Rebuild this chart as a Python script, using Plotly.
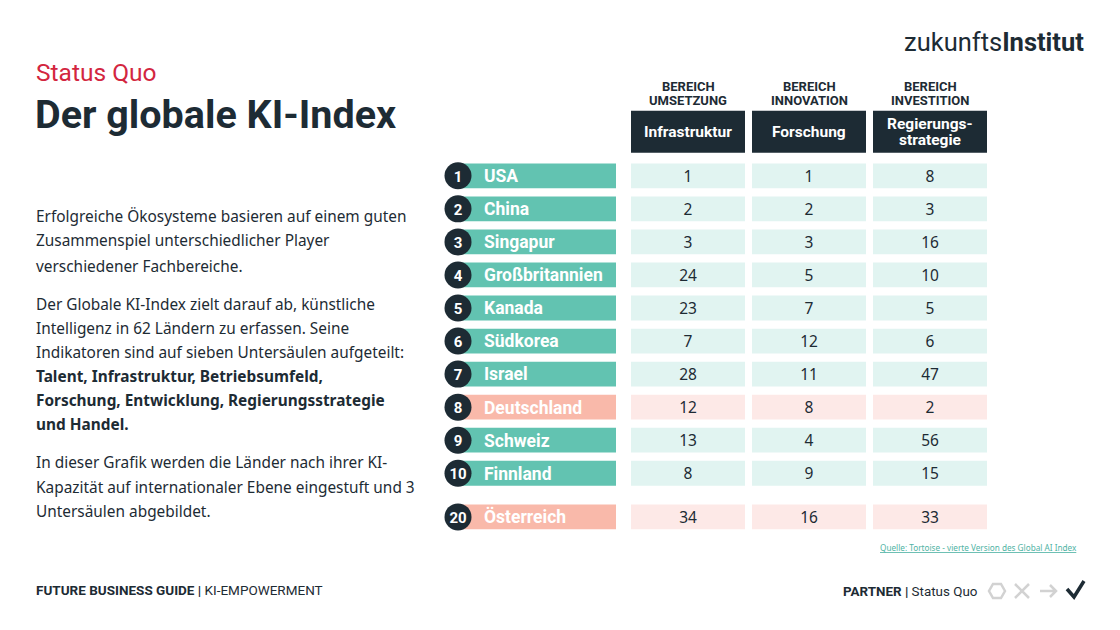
import plotly.graph_objects as go

# ---------------- data ----------------
ranks = [1, 2, 3, 4, 5, 6, 7, 8, 9, 10, 20]
countries = ["USA", "China", "Singapur", "Großbritannien", "Kanada", "Südkorea",
             "Israel", "Deutschland", "Schweiz", "Finnland", "Österreich"]
infrastruktur = [1, 2, 3, 24, 23, 7, 28, 12, 13, 8, 34]
forschung = [1, 2, 3, 5, 7, 12, 11, 8, 4, 9, 16]
regierungsstrategie = [8, 3, 16, 10, 5, 6, 47, 2, 56, 15, 33]
highlighted = ["Deutschland", "Österreich"]

column_groups = [["BEREICH", "UMSETZUNG"], ["BEREICH", "INNOVATION"], ["BEREICH", "INVESTITION"]]
column_titles = [["Infrastruktur"], ["Forschung"], ["Regierungs-", "strategie"]]

# ---------------- style / layout ----------------
PAGE_W, PAGE_H = 1120, 630
OFF = 8  # default page margin of the html body
W, H = PAGE_W - OFF, PAGE_H - OFF
DARK = "#1d2b34"
TEAL = "#62c3b1"
TEAL_LIGHT = "#e1f4f1"
PINK = "#f9b9aa"
PINK_LIGHT = "#fde9e7"
RED = "#d3263f"
GRAY = "#d2d2d2"
TITLE_FONT = "Roboto"
BODY_FONT = "Noto Sans"

ROW0_PX = 175.8
ROW_STEP = 33.05
BAR_W = 0.75
TEXT_SHIFT = 0.06  # small downward nudge of text inside rows
NAME_LEFT, NAME_WIDTH = 460, 156
COL_LEFTS = [631, 752, 873]
COL_WIDTH = 114
CIRCLE_X = 458

# row positions: top 10 consecutive, extra spacing before the following rank
row_pos = [r - 1 if r <= 10 else 10.32 for r in ranks]
text_pos = [p + TEXT_SHIFT for p in row_pos]
is_hl = [c in highlighted for c in countries]
name_colors = [PINK if h else TEAL for h in is_hl]
cell_colors = [PINK_LIGHT if h else TEAL_LIGHT for h in is_hl]

fig = go.Figure()

# country name bars
fig.add_trace(go.Bar(orientation="h", y=row_pos, x=[NAME_WIDTH] * len(ranks),
                     base=[NAME_LEFT] * len(ranks), width=BAR_W,
                     marker=dict(color=name_colors, line=dict(width=0)),
                     hoverinfo="skip", showlegend=False))
# value cells
for left, vals in zip(COL_LEFTS, [infrastruktur, forschung, regierungsstrategie]):
    fig.add_trace(go.Bar(orientation="h", y=row_pos, x=[COL_WIDTH] * len(ranks),
                         base=[left] * len(ranks), width=BAR_W,
                         marker=dict(color=cell_colors, line=dict(width=0)),
                         hoverinfo="skip", showlegend=False))
    fig.add_trace(go.Scatter(x=[left + COL_WIDTH / 2] * len(ranks), y=text_pos,
                             mode="text", text=[str(v) for v in vals],
                             textposition="middle center",
                             textfont=dict(family=BODY_FONT, size=15.5, color=DARK),
                             hoverinfo="skip", showlegend=False))

# country names
fig.add_trace(go.Scatter(x=[484] * len(ranks), y=text_pos, mode="text",
                         text=["<b>%s</b>" % c for c in countries],
                         textposition="middle right",
                         textfont=dict(family=TITLE_FONT, size=17.5, color="white"),
                         hoverinfo="skip", showlegend=False))
# rank circles
fig.add_trace(go.Scatter(x=[CIRCLE_X] * len(ranks), y=row_pos, mode="markers",
                         marker=dict(size=27, color=DARK, line=dict(width=0)),
                         hoverinfo="skip", showlegend=False))
fig.add_trace(go.Scatter(x=[CIRCLE_X] * len(ranks), y=text_pos, mode="text",
                         text=["<b>%d</b>" % r for r in ranks],
                         textposition="middle center",
                         textfont=dict(family=TITLE_FONT, size=15, color="white"),
                         hoverinfo="skip", showlegend=False))

def px(x):
    return (x - OFF) / W

def py(y):
    return 1 - (y - OFF) / H

annotations = []
shapes = []

def line_ann(txt, x, y, size, color, family=TITLE_FONT, xanchor="center"):
    annotations.append(dict(x=px(x), y=py(y), xref="paper", yref="paper",
                            text=txt, showarrow=False,
                            font=dict(family=family, size=size, color=color),
                            xanchor=xanchor, yanchor="middle"))

# header groups and boxes
for left, grp, ttl in zip(COL_LEFTS, column_groups, column_titles):
    cx = left + COL_WIDTH / 2
    for i, t in enumerate(grp):
        line_ann("<b>%s</b>" % t, cx, 87 + 14 * i, 13, DARK)
    shapes.append(dict(type="rect", xref="paper", yref="paper",
                       x0=px(left), x1=px(left + COL_WIDTH), y0=py(152.7), y1=py(110.7),
                       fillcolor=DARK, line=dict(width=0), layer="below"))
    n = len(ttl)
    for i, t in enumerate(ttl):
        line_ann("<b>%s</b>" % t, cx, 132 + 16 * (i - (n - 1) / 2), 15.5, "white")

# titles
line_ann("Status Quo", 34, 73, 24.5, RED, xanchor="left")
line_ann("<b>Der globale KI-Index</b>", 33, 115, 39.5, DARK, xanchor="left")
# logo
line_ann("zukunfts<b>Institut</b>", 1086, 42, 25.5, DARK, xanchor="right")

# body text
body_lines = [
    ("Erfolgreiche Ökosysteme basieren auf einem guten", 217),
    ("Zusammenspiel unterschiedlicher Player", 241),
    ("verschiedener Fachbereiche.", 266),
    ("Der Globale KI-Index zielt darauf ab, künstliche", 304),
    ("Intelligenz in 62 Ländern zu erfassen. Seine", 328),
    ("Indikatoren sind auf sieben Untersäulen aufgeteilt:", 352),
    ("<b>Talent, Infrastruktur, Betriebsumfeld,</b>", 376),
    ("<b>Forschung, Entwicklung, Regierungsstrategie</b>", 400),
    ("<b>und Handel.</b>", 424),
    ("In dieser Grafik werden die Länder nach ihrer KI-", 462),
    ("Kapazität auf internationaler Ebene eingestuft und 3", 487),
    ("Untersäulen abgebildet.", 511),
]
for txt, yy in body_lines:
    line_ann(txt, 34, yy, 15.4, DARK, family=BODY_FONT, xanchor="left")

# source
line_ann("<u>Quelle: Tortoise - vierte Version des Global AI Index</u>", 1079, 547,
         8.2, "#4fb3a4", family=BODY_FONT, xanchor="right")
# footers
line_ann("<b>FUTURE BUSINESS GUIDE |</b> KI-EMPOWERMENT", 34, 590, 13.5, DARK, xanchor="left")
line_ann("<b>PARTNER |</b> Status Quo", 980, 591, 13.4, DARK, xanchor="right")

def path(points, closed=False):
    s = "M " + " L ".join("%f %f" % (px(a), py(b)) for a, b in points)
    return s + (" Z" if closed else "")

# footer icons
hexa = [(1005, 591), (1001, 584), (993, 584), (989, 591), (993, 598), (1001, 598)]
shapes.append(dict(type="path", xref="paper", yref="paper", path=path(hexa, True),
                   line=dict(color=GRAY, width=2.5)))
shapes.append(dict(type="path", xref="paper", yref="paper",
                   path=path([(1015, 584), (1029, 598)]) + " " + path([(1015, 598), (1029, 584)]),
                   line=dict(color=GRAY, width=2.5)))
shapes.append(dict(type="path", xref="paper", yref="paper",
                   path=path([(1040, 591), (1056, 591)]) + " " + path([(1050, 585), (1056, 591), (1050, 597)]),
                   line=dict(color=GRAY, width=2.5)))
shapes.append(dict(type="path", xref="paper", yref="paper",
                   path=path([(1067, 589), (1074, 597), (1084, 581)]),
                   line=dict(color=DARK, width=3.5)))

y_top = (OFF - ROW0_PX) / ROW_STEP
y_bot = (PAGE_H - ROW0_PX) / ROW_STEP

fig.update_layout(
    width=W, height=H,
    margin=dict(l=0, r=0, t=0, b=0),
    paper_bgcolor="white", plot_bgcolor="rgba(0,0,0,0)",
    barmode="overlay",
    xaxis=dict(range=[OFF, PAGE_W], visible=False, fixedrange=True),
    yaxis=dict(range=[y_bot, y_top], visible=False, fixedrange=True),
    annotations=annotations,
    shapes=shapes,
    showlegend=False,
    hovermode=False,
)

fig.write_html("out.html", config={"displayModeBar": False})
